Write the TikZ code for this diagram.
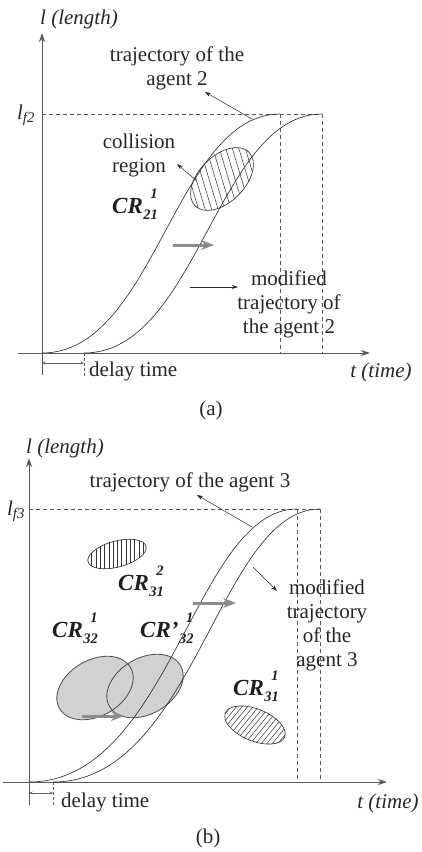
\documentclass[tikz,border=0pt]{standalone}
\usepackage{fontspec}
\setmainfont{Liberation Serif}
\usetikzlibrary{arrows.meta}
\newcommand\crlab[3]{\textit{#1}\kern0.5pt\raisebox{-6.5pt}{\fontsize{14.5}{15}\selectfont\textit{#2}}\kern-7.5pt\raisebox{15pt}{\fontsize{14.5}{15}\selectfont\textit{#3}}}
\begin{document}
\begin{tikzpicture}[x=1pt,y=-1pt,
  lbl/.style={font=\fontsize{21}{24}\selectfont, align=center, inner sep=0pt, text=black!85},
  crl/.style={font=\fontsize{23}{26}\selectfont\bfseries, inner sep=0pt, text=black!88, anchor=base west},
  axisline/.style={draw=black!65, line width=0.9pt, -{Stealth[length=9pt,width=6pt]}},
  traj/.style={draw=black!85, line width=0.6pt},
  guide/.style={draw=black!65, line width=0.6pt, dash pattern=on 4pt off 3pt},
  callout/.style={draw=black!85, line width=0.5pt, -{Stealth[length=6pt,width=4pt]}},
  shiftarrow/.style={draw=black!45, line width=3pt, -{Stealth[length=13pt,width=10pt]}},
  delayarrow/.style={draw=black!60, line width=0.5pt, {Stealth[length=3.5pt,width=3pt]}-{Stealth[length=3.5pt,width=3pt]}},
  hatchline/.style={draw=black!80, line width=0.5pt},
  crfill/.style={fill=black!18},
  croutline/.style={draw=black!70, line width=0.8pt},
]
\useasboundingbox (0,0) rectangle (422,852);

% ================= panel (a) =================
\coordinate (Ayb) at (42,375);
\coordinate (Ayt) at (42,33);
\coordinate (Axl) at (18,353);
\coordinate (Axr) at (370,353);
\draw[axisline] (Ayb) -- (Ayt);
\draw[axisline] (Axl) -- (Axr);

\coordinate (A1s) at (42,353);
\coordinate (A1e) at (280,114);
\coordinate (A2s) at (84,353);
\coordinate (A2e) at (322,114);
\coordinate (A1b) at (280,353);
\coordinate (A2b) at (322,353);
\coordinate (Alf) at (42,114);
\draw[guide] (Alf) -- (A2e);
\draw[guide] (A1e) -- (A1b);
\draw[guide] (A2e) -- (A2b);

% collision region (hatched)
\coordinate (Ace) at (222,179);
\begin{scope}
  \clip[rotate around={45:(Ace)}] (Ace) ellipse [x radius=38, y radius=23];
  \foreach \i in {-52,-45.5,...,52} {
    \draw[hatchline] ([xshift=\i pt-12pt,yshift=40pt]Ace) -- ([xshift=\i pt+12pt,yshift=-40pt]Ace);
  }
\end{scope}
\draw[traj, rotate around={45:(Ace)}] (Ace) ellipse [x radius=38, y radius=23];

\draw[traj] (A1s) .. controls (155,353) and (175,114) .. (A1e);
\draw[traj] (A2s) .. controls (197,353) and (217,114) .. (A2e);

% labels (a)
\node[lbl] (Alen) at (79,19) {\textit{l (length)}};
\node[lbl] (Alf2) at (26,115) {\textit{l}\textsubscript{\textit{f2}}};
\node[lbl] (Atrt) at (177,68) {trajectory of the\\agent 2};
\node[lbl] (Acol) at (139,155) {collision\\region};
\node[crl] (Acr) at (112,213) {\crlab{CR}{21}{1}};
\node[lbl] (Amod) at (289,304) {modified\\trajectory of\\the agent 2};
\node[lbl, anchor=west] (Adel) at (89,371) {delay time};
\node[lbl] (Atime) at (381,372) {\textit{t (time)}};
\node[lbl] (Acap) at (211,410) {(a)};

% callouts (a)
\coordinate (Atrf) at (252,119);
\coordinate (Atrh) at (205,92);
\draw[callout] (Atrf) -- (Atrh);
\coordinate (Acof) at (197,181);
\coordinate (Acoh) at (177,164);
\draw[callout] (Acof) -- (Acoh);
\coordinate (Amof) at (190,287);
\coordinate (Amoh) at (238,287);
\draw[callout] (Amof) -- (Amoh);
\coordinate (Ags) at (173,245);
\coordinate (Age) at (214,245);
\draw[shiftarrow] (Ags) -- (Age);

% delay (a)
\coordinate (Ad1) at (42,363);
\coordinate (Ad2) at (84,363);
\draw[delayarrow] (Ad1) -- (Ad2);
\coordinate (Adt) at (84,376);
\draw[guide, line width=0.5pt, dash pattern=on 3pt off 2pt] (A2s) -- (Adt);

% ================= panel (b) =================
\coordinate (Byb) at (29,805);
\coordinate (Byt) at (29,458);
\coordinate (Bxl) at (3,782);
\coordinate (Bxr) at (387,782);
\draw[axisline] (Byb) -- (Byt);
\draw[axisline] (Bxl) -- (Bxr);

\coordinate (B1s) at (29,782);
\coordinate (B1e) at (297,509);
\coordinate (B2s) at (53,782);
\coordinate (B2e) at (320,509);
\coordinate (B1b) at (297,782);
\coordinate (B2b) at (320,782);
\coordinate (Blf) at (29,509);
\draw[guide] (Blf) -- (B2e);
\draw[guide] (B1e) -- (B1b);
\draw[guide] (B2e) -- (B2b);

% CR32^1 and CR'32^1 (gray)
\coordinate (Bg1) at (95,688);
\coordinate (Bg2) at (145,686);
\fill[crfill, rotate around={30:(Bg1)}] (Bg1) ellipse [x radius=41, y radius=28];
\fill[crfill, rotate around={30:(Bg2)}] (Bg2) ellipse [x radius=41, y radius=28];
\draw[croutline, rotate around={30:(Bg1)}] (Bg1) ellipse [x radius=41, y radius=28];
\draw[croutline, rotate around={30:(Bg2)}] (Bg2) ellipse [x radius=41, y radius=28];

% CR31^2 (vertical hatch)
\coordinate (Bh2) at (117,554);
\begin{scope}
  \clip[rotate around={15:(Bh2)}] (Bh2) ellipse [x radius=30, y radius=13];
  \foreach \i in {-34,-29.7,...,34} {
    \draw[hatchline] ([xshift=\i pt,yshift=20pt]Bh2) -- ([xshift=\i pt,yshift=-20pt]Bh2);
  }
\end{scope}
\draw[traj, rotate around={15:(Bh2)}] (Bh2) ellipse [x radius=30, y radius=13];

% CR31^1 (diagonal hatch)
\coordinate (Bh1) at (255,725);
\begin{scope}
  \clip[rotate around={-22:(Bh1)}] (Bh1) ellipse [x radius=32, y radius=16];
  \foreach \i in {-50,-44.5,...,50} {
    \draw[hatchline] ([xshift=\i pt-18pt,yshift=-22pt]Bh1) -- ([xshift=\i pt+18pt,yshift=22pt]Bh1);
  }
\end{scope}
\draw[traj, rotate around={-22:(Bh1)}] (Bh1) ellipse [x radius=32, y radius=16];

\draw[traj] (B1s) .. controls (170,782) and (195,509) .. (B1e);
\draw[traj] (B2s) .. controls (194,782) and (219,509) .. (B2e);

% labels (b)
\node[lbl] (Blen) at (65,448) {\textit{l (length)}};
\node[lbl] (Blf3) at (16,511) {\textit{l}\textsubscript{\textit{f3}}};
\node[lbl] (Btrt) at (190,482) {trajectory of the agent 3};
\node[lbl] (Bmod) at (327,625) {modified\\trajectory\\of the\\agent 3};
\node[crl] (Bcr312) at (118,590) {\crlab{CR}{31}{2}};
\node[crl] (Bcr321) at (52,637) {\crlab{CR}{32}{1}};
\node[crl] (Bcrp) at (140,637) {\crlab{CR’}{32}{1}};
\node[crl] (Bcr311) at (233,695) {\crlab{CR}{31}{1}};
\node[lbl, anchor=west] (Bdel) at (61,802) {delay time};
\node[lbl] (Btime) at (388,803) {\textit{t (time)}};
\node[lbl] (Bcap) at (208,838) {(b)};

% callouts (b)
\coordinate (Btrf) at (252,527);
\coordinate (Btrh) at (197,495);
\draw[callout] (Btrf) -- (Btrh);
\coordinate (Bmof) at (253,567);
\coordinate (Bmoh) at (277,591);
\draw[callout] (Bmof) -- (Bmoh);
\coordinate (Bgs1) at (193,603);
\coordinate (Bge1) at (236,603);
\draw[shiftarrow] (Bgs1) -- (Bge1);
\coordinate (Bgs2) at (82,716);
\coordinate (Bge2) at (124,716);
\draw[shiftarrow] (Bgs2) -- (Bge2);

% delay (b)
\coordinate (Bd1) at (29,793);
\coordinate (Bd2) at (53,793);
\draw[delayarrow] (Bd1) -- (Bd2);
\coordinate (Bdt) at (53,806);
\draw[guide, line width=0.5pt, dash pattern=on 3pt off 2pt] (B2s) -- (Bdt);
\end{tikzpicture}
\end{document}
